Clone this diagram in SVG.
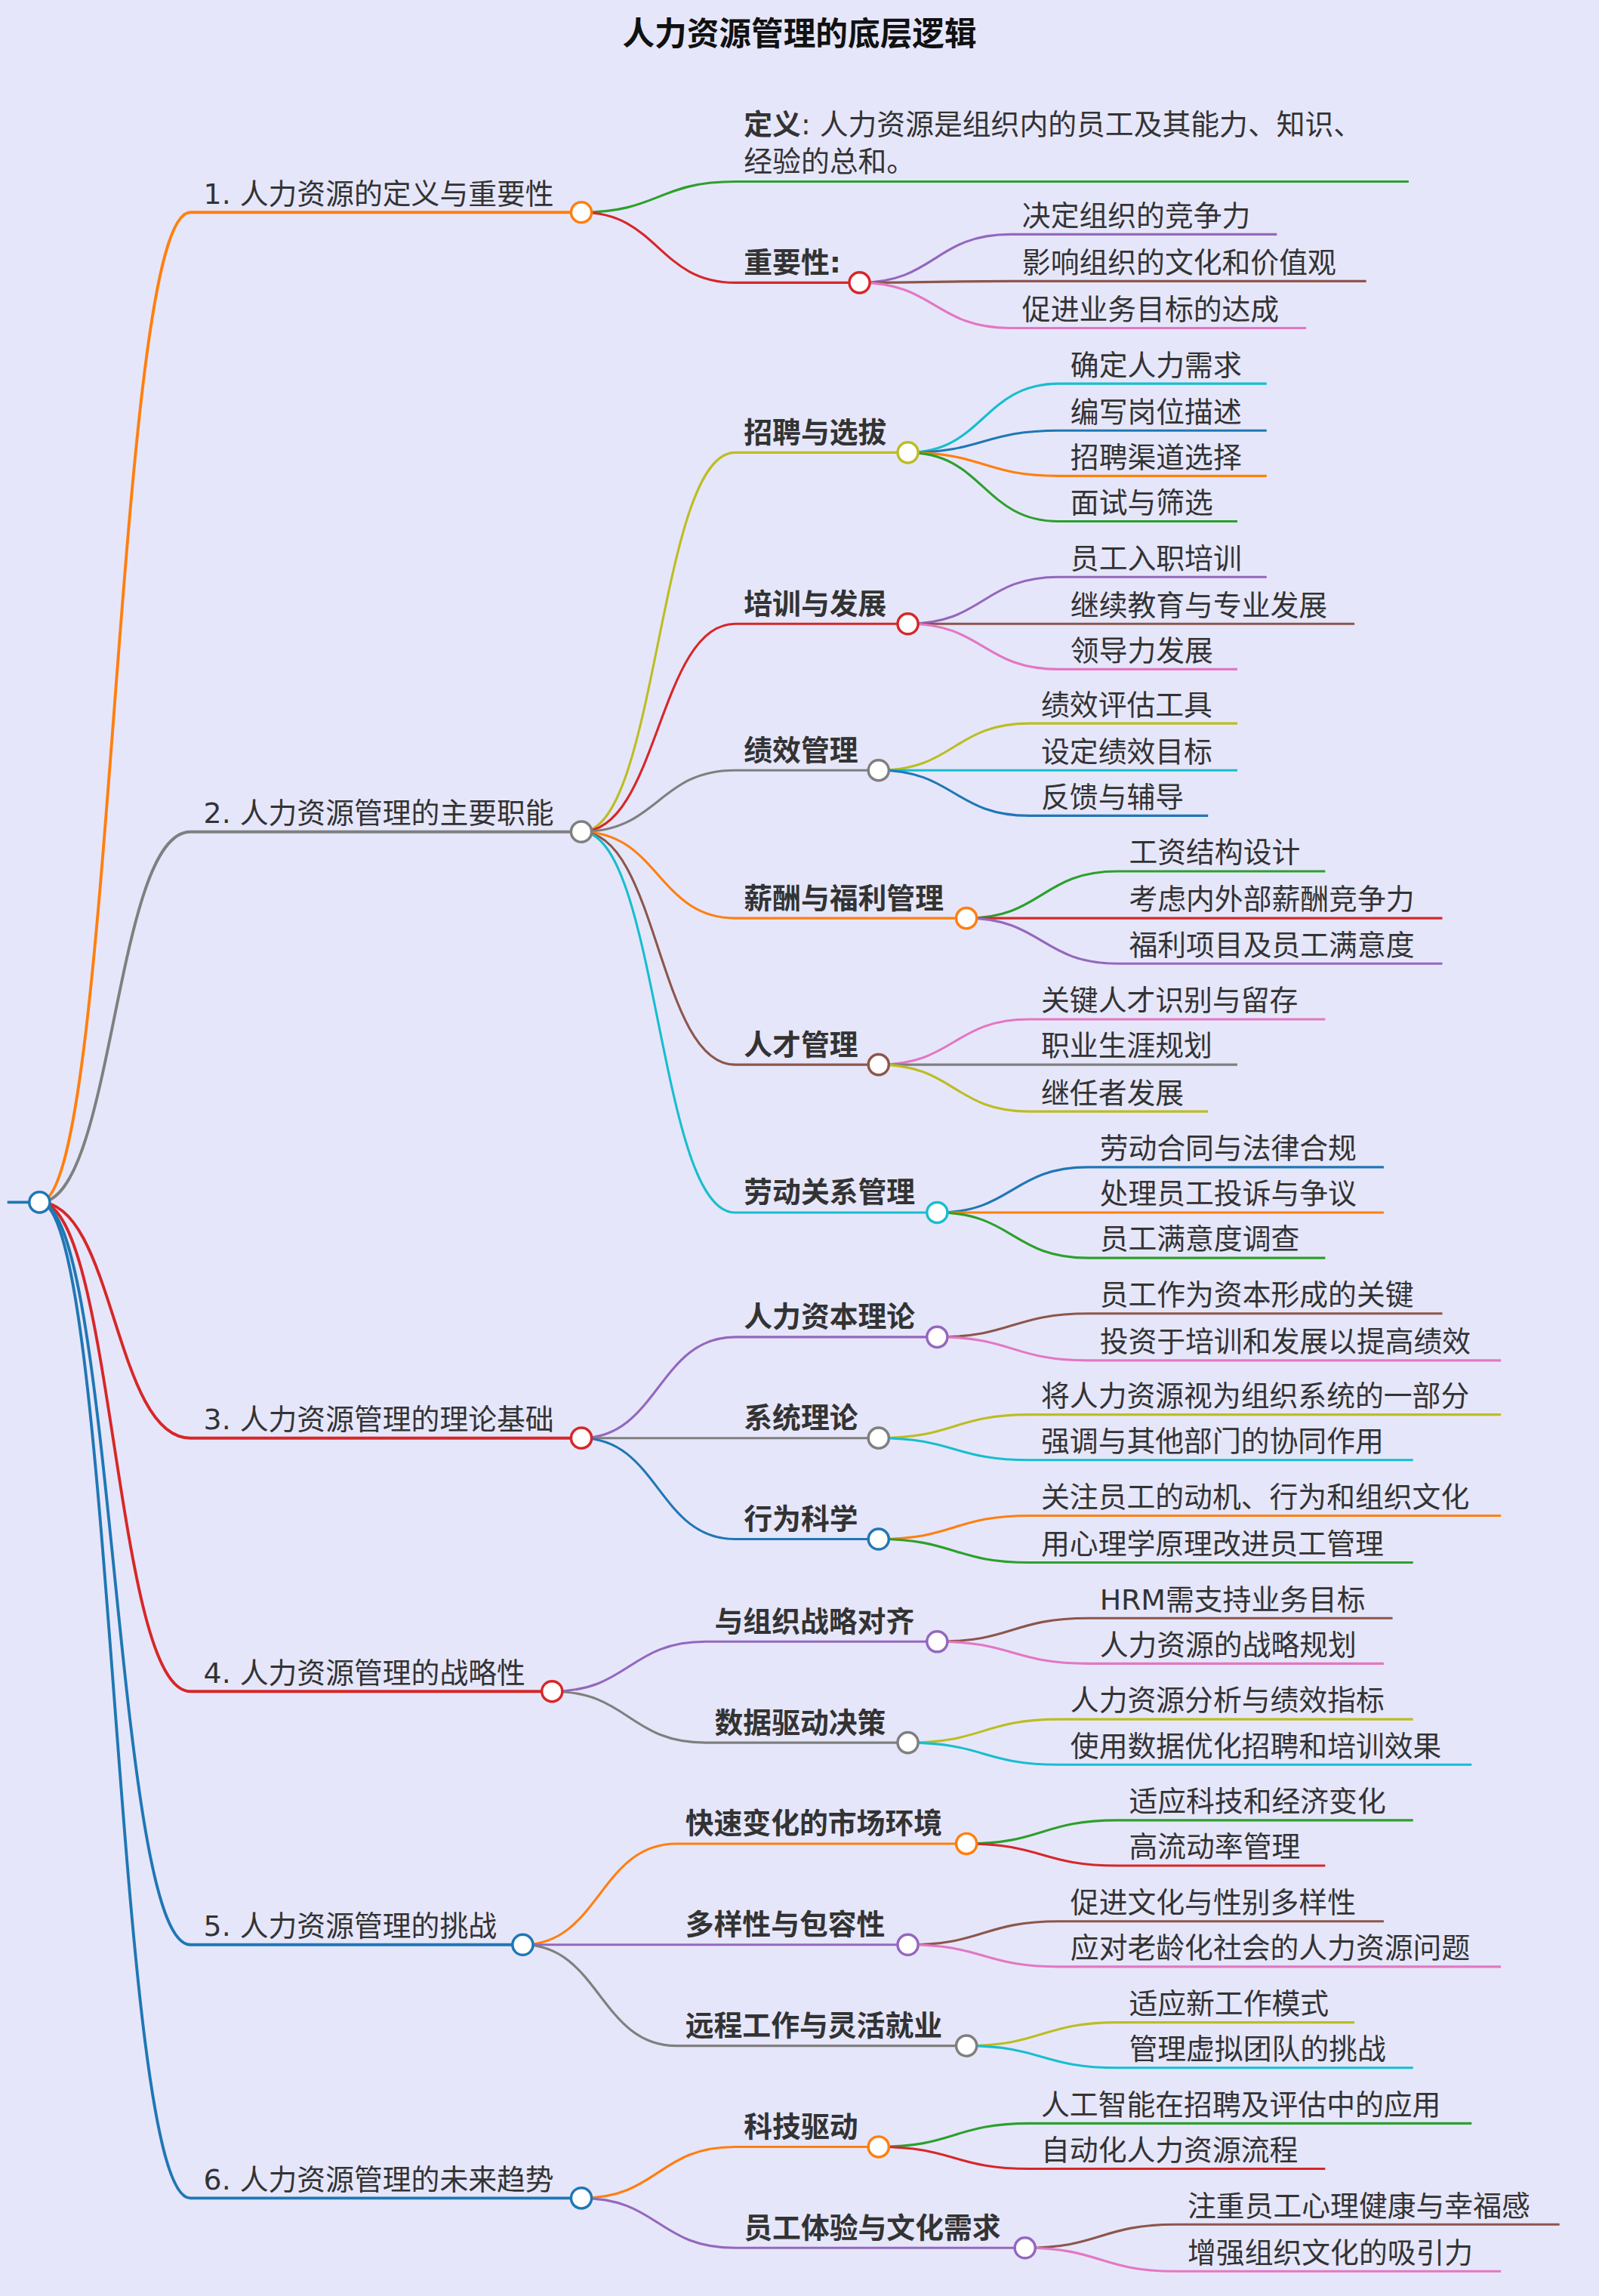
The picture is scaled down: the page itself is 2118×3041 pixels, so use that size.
<svg xmlns="http://www.w3.org/2000/svg" width="2118" height="3041" viewBox="0 0 2118 3041">
<style>
text{font-family:"DejaVu Sans","Noto Sans CJK SC",sans-serif;font-size:19.5px;fill:#333}
.b{font-weight:bold}
.t{font-size:22px;font-weight:bold;fill:#111}
path{fill:none;stroke-width:1.6}
.r1{stroke-width:2}
circle{fill:#fff;stroke-width:1.8}
.or{stroke:#ff7f0e}.gy{stroke:#7f7f7f}.rd{stroke:#d62728}.bl{stroke:#1f77b4}.gn{stroke:#2ca02c}.pu{stroke:#9467bd}.br{stroke:#8c564b}.pk{stroke:#e377c2}.ol{stroke:#bcbd22}.cy{stroke:#17becf}
</style>
<rect width="2118" height="3041" fill="#e6e6fa"/>
<g transform="scale(1.9396)">
<text class="t" x="546" y="31" text-anchor="middle">人力资源管理的底层逻辑</text>
<g id="connectors">
<path class="bl r1" d="M5 821 H27"/>
<path class="or r1" d="M27 821 C78 821 78 145 130 145 H390"/>
<path class="gy r1" d="M27 821 C78 821 78 568 130 568 H390"/>
<path class="rd r1" d="M27 821 C78 821 78 982 130 982 H390"/>
<path class="rd r1" d="M27 821 C78 821 78 1155 130 1155 H370"/>
<path class="bl r1" d="M27 821 C78 821 78 1328 130 1328 H350"/>
<path class="bl r1" d="M27 821 C78 821 78 1501 130 1501 H390"/>
<path class="gn" d="M397 145 C449.5 145 449.5 124 502 124 H962"/>
<path class="rd" d="M397 145 C449.5 145 449.5 193 502 193 H580"/>
<path class="pu" d="M587 193 C638.5 193 638.5 160 690 160 H872"/>
<path class="br" d="M587 193 C638.5 193 638.5 192 690 192 H933"/>
<path class="pk" d="M587 193 C638.5 193 638.5 224 690 224 H892"/>
<path class="ol" d="M397 568 C449.5 568 449.5 309 502 309 H613"/>
<path class="rd" d="M397 568 C449.5 568 449.5 426 502 426 H613"/>
<path class="gy" d="M397 568 C449.5 568 449.5 526 502 526 H593"/>
<path class="or" d="M397 568 C449.5 568 449.5 627 502 627 H653"/>
<path class="br" d="M397 568 C449.5 568 449.5 727 502 727 H593"/>
<path class="cy" d="M397 568 C449.5 568 449.5 828 502 828 H633"/>
<path class="cy" d="M620 309 C671.5 309 671.5 262 723 262 H865"/>
<path class="bl" d="M620 309 C671.5 309 671.5 294 723 294 H865"/>
<path class="or" d="M620 309 C671.5 309 671.5 325 723 325 H865"/>
<path class="gn" d="M620 309 C671.5 309 671.5 356 723 356 H845"/>
<path class="pu" d="M620 426 C671.5 426 671.5 394 723 394 H865"/>
<path class="br" d="M620 426 C671.5 426 671.5 426 723 426 H925"/>
<path class="pk" d="M620 426 C671.5 426 671.5 457 723 457 H845"/>
<path class="ol" d="M600 526 C651.5 526 651.5 494 703 494 H845"/>
<path class="cy" d="M600 526 C651.5 526 651.5 526 703 526 H845"/>
<path class="bl" d="M600 526 C651.5 526 651.5 557 703 557 H825"/>
<path class="gn" d="M660 627 C711.5 627 711.5 595 763 595 H905"/>
<path class="rd" d="M660 627 C711.5 627 711.5 627 763 627 H985"/>
<path class="pu" d="M660 627 C711.5 627 711.5 658 763 658 H985"/>
<path class="pk" d="M600 727 C651.5 727 651.5 696 703 696 H905"/>
<path class="gy" d="M600 727 C651.5 727 651.5 727 703 727 H845"/>
<path class="ol" d="M600 727 C651.5 727 651.5 759 703 759 H825"/>
<path class="bl" d="M640 828 C691.5 828 691.5 797 743 797 H945"/>
<path class="or" d="M640 828 C691.5 828 691.5 828 743 828 H945"/>
<path class="gn" d="M640 828 C691.5 828 691.5 859 743 859 H905"/>
<path class="pu" d="M397 982 C449.5 982 449.5 913 502 913 H633"/>
<path class="gy" d="M397 982 C449.5 982 449.5 982 502 982 H593"/>
<path class="bl" d="M397 982 C449.5 982 449.5 1051 502 1051 H593"/>
<path class="br" d="M640 913 C691.5 913 691.5 897 743 897 H985"/>
<path class="pk" d="M640 913 C691.5 913 691.5 929 743 929 H1025"/>
<path class="ol" d="M600 982 C651.5 982 651.5 966 703 966 H1025"/>
<path class="cy" d="M600 982 C651.5 982 651.5 997 703 997 H965"/>
<path class="or" d="M600 1051 C651.5 1051 651.5 1035 703 1035 H1025"/>
<path class="gn" d="M600 1051 C651.5 1051 651.5 1067 703 1067 H965"/>
<path class="pu" d="M377 1155 C429.5 1155 429.5 1121 482 1121 H633"/>
<path class="gy" d="M377 1155 C429.5 1155 429.5 1190 482 1190 H613"/>
<path class="br" d="M640 1121 C691.5 1121 691.5 1105 743 1105 H951"/>
<path class="pk" d="M640 1121 C691.5 1121 691.5 1136 743 1136 H945"/>
<path class="ol" d="M620 1190 C671.5 1190 671.5 1174 723 1174 H965"/>
<path class="cy" d="M620 1190 C671.5 1190 671.5 1205 723 1205 H1005"/>
<path class="or" d="M357 1328 C409.5 1328 409.5 1259 462 1259 H653"/>
<path class="pu" d="M357 1328 C409.5 1328 409.5 1328 462 1328 H613"/>
<path class="gy" d="M357 1328 C409.5 1328 409.5 1397 462 1397 H653"/>
<path class="gn" d="M660 1259 C711.5 1259 711.5 1243 763 1243 H965"/>
<path class="rd" d="M660 1259 C711.5 1259 711.5 1274 763 1274 H905"/>
<path class="br" d="M620 1328 C671.5 1328 671.5 1312 723 1312 H945"/>
<path class="pk" d="M620 1328 C671.5 1328 671.5 1343 723 1343 H1025"/>
<path class="ol" d="M660 1397 C711.5 1397 711.5 1381 763 1381 H925"/>
<path class="cy" d="M660 1397 C711.5 1397 711.5 1412 763 1412 H965"/>
<path class="or" d="M397 1501 C449.5 1501 449.5 1466 502 1466 H593"/>
<path class="pu" d="M397 1501 C449.5 1501 449.5 1535 502 1535 H693"/>
<path class="gn" d="M600 1466 C651.5 1466 651.5 1450 703 1450 H1005"/>
<path class="rd" d="M600 1466 C651.5 1466 651.5 1481 703 1481 H905"/>
<path class="br" d="M700 1535 C751.5 1535 751.5 1519 803 1519 H1065"/>
<path class="pk" d="M700 1535 C751.5 1535 751.5 1551 803 1551 H1025"/>
</g>
<g id="root"><circle class="bl" cx="27" cy="821" r="7"/></g>
<g id="n1"><text x="139" y="139">1. 人力资源的定义与重要性</text><circle class="or" cx="397" cy="145" r="7"/></g>
<g id="n1a"><text x="508" y="92"><tspan class="b">定义</tspan>: 人力资源是组织内的员工及其能力、知识、</text><text x="508" y="117">经验的总和。</text></g>
<g id="n1b"><text class="b" x="508" y="186">重要性:</text><circle class="rd" cx="587" cy="193" r="7"/></g>
<g id="n1b1"><text x="698" y="154">决定组织的竞争力</text></g>
<g id="n1b2"><text x="698" y="186">影响组织的文化和价值观</text></g>
<g id="n1b3"><text x="698" y="218">促进业务目标的达成</text></g>
<g id="n2"><text x="139" y="562">2. 人力资源管理的主要职能</text><circle class="gy" cx="397" cy="568" r="7"/></g>
<g id="n2a"><text class="b" x="508" y="302">招聘与选拔</text><circle class="ol" cx="620" cy="309" r="7"/></g>
<g><text x="731" y="256">确定人力需求</text><text x="731" y="288">编写岗位描述</text><text x="731" y="319">招聘渠道选择</text><text x="731" y="350">面试与筛选</text></g>
<g id="n2b"><text class="b" x="508" y="419">培训与发展</text><circle class="rd" cx="620" cy="426" r="7"/></g>
<g><text x="731" y="388">员工入职培训</text><text x="731" y="420">继续教育与专业发展</text><text x="731" y="451">领导力发展</text></g>
<g id="n2c"><text class="b" x="508" y="519">绩效管理</text><circle class="gy" cx="600" cy="526" r="7"/></g>
<g><text x="711" y="488">绩效评估工具</text><text x="711" y="520">设定绩效目标</text><text x="711" y="551">反馈与辅导</text></g>
<g id="n2d"><text class="b" x="508" y="620">薪酬与福利管理</text><circle class="or" cx="660" cy="627" r="7"/></g>
<g><text x="771" y="589">工资结构设计</text><text x="771" y="621">考虑内外部薪酬竞争力</text><text x="771" y="652">福利项目及员工满意度</text></g>
<g id="n2e"><text class="b" x="508" y="720">人才管理</text><circle class="br" cx="600" cy="727" r="7"/></g>
<g><text x="711" y="690">关键人才识别与留存</text><text x="711" y="721">职业生涯规划</text><text x="711" y="753">继任者发展</text></g>
<g id="n2f"><text class="b" x="508" y="821">劳动关系管理</text><circle class="cy" cx="640" cy="828" r="7"/></g>
<g><text x="751" y="791">劳动合同与法律合规</text><text x="751" y="822">处理员工投诉与争议</text><text x="751" y="853">员工满意度调查</text></g>
<g id="n3"><text x="139" y="976">3. 人力资源管理的理论基础</text><circle class="rd" cx="397" cy="982" r="7"/></g>
<g id="n3a"><text class="b" x="508" y="906">人力资本理论</text><circle class="pu" cx="640" cy="913" r="7"/></g>
<g><text x="751" y="891">员工作为资本形成的关键</text><text x="751" y="923">投资于培训和发展以提高绩效</text></g>
<g id="n3b"><text class="b" x="508" y="975">系统理论</text><circle class="gy" cx="600" cy="982" r="7"/></g>
<g><text x="711" y="960">将人力资源视为组织系统的一部分</text><text x="711" y="991">强调与其他部门的协同作用</text></g>
<g id="n3c"><text class="b" x="508" y="1044">行为科学</text><circle class="bl" cx="600" cy="1051" r="7"/></g>
<g><text x="711" y="1029">关注员工的动机、行为和组织文化</text><text x="711" y="1061">用心理学原理改进员工管理</text></g>
<g id="n4"><text x="139" y="1149">4. 人力资源管理的战略性</text><circle class="rd" cx="377" cy="1155" r="7"/></g>
<g id="n4a"><text class="b" x="488" y="1114">与组织战略对齐</text><circle class="pu" cx="640" cy="1121" r="7"/></g>
<g><text x="751" y="1099">HRM需支持业务目标</text><text x="751" y="1130">人力资源的战略规划</text></g>
<g id="n4b"><text class="b" x="488" y="1183">数据驱动决策</text><circle class="gy" cx="620" cy="1190" r="7"/></g>
<g><text x="731" y="1168">人力资源分析与绩效指标</text><text x="731" y="1199">使用数据优化招聘和培训效果</text></g>
<g id="n5"><text x="139" y="1322">5. 人力资源管理的挑战</text><circle class="bl" cx="357" cy="1328" r="7"/></g>
<g id="n5a"><text class="b" x="468" y="1252">快速变化的市场环境</text><circle class="or" cx="660" cy="1259" r="7"/></g>
<g><text x="771" y="1237">适应科技和经济变化</text><text x="771" y="1268">高流动率管理</text></g>
<g id="n5b"><text class="b" x="468" y="1321">多样性与包容性</text><circle class="pu" cx="620" cy="1328" r="7"/></g>
<g><text x="731" y="1306">促进文化与性别多样性</text><text x="731" y="1337">应对老龄化社会的人力资源问题</text></g>
<g id="n5c"><text class="b" x="468" y="1390">远程工作与灵活就业</text><circle class="gy" cx="660" cy="1397" r="7"/></g>
<g><text x="771" y="1375">适应新工作模式</text><text x="771" y="1406">管理虚拟团队的挑战</text></g>
<g id="n6"><text x="139" y="1495">6. 人力资源管理的未来趋势</text><circle class="bl" cx="397" cy="1501" r="7"/></g>
<g id="n6a"><text class="b" x="508" y="1459">科技驱动</text><circle class="or" cx="600" cy="1466" r="7"/></g>
<g><text x="711" y="1444">人工智能在招聘及评估中的应用</text><text x="711" y="1475">自动化人力资源流程</text></g>
<g id="n6b"><text class="b" x="508" y="1528">员工体验与文化需求</text><circle class="pu" cx="700" cy="1535" r="7"/></g>
<g><text x="811" y="1513">注重员工心理健康与幸福感</text><text x="811" y="1545">增强组织文化的吸引力</text></g>
</g>
</svg>
